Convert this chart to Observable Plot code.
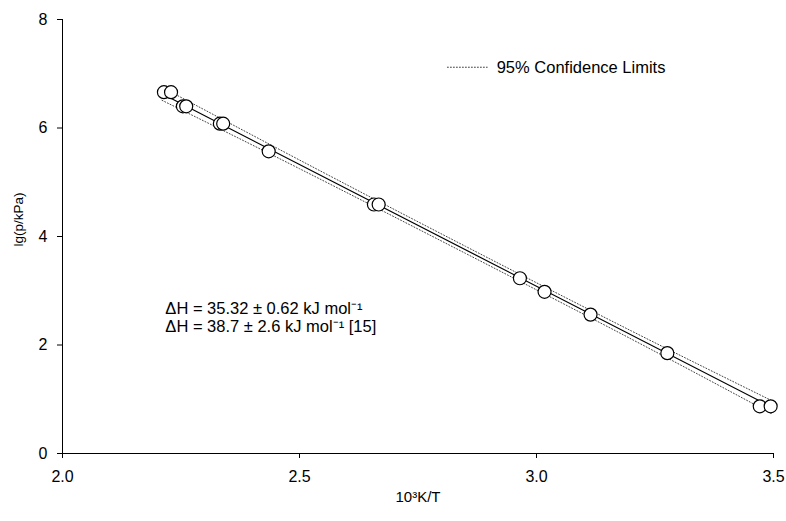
<!DOCTYPE html>
<html>
<head>
<meta charset="utf-8">
<script src="https://cdn.jsdelivr.net/npm/d3@7"></script>
<script src="https://cdn.jsdelivr.net/npm/@observablehq/plot@0.6"></script>
<style>
  html, body { margin: 0; padding: 0; background: #fff; }
  svg { font-family: "Liberation Sans", Arial, sans-serif; }
</style>
</head>
<body>
<div id="chart"></div>
<script>
// measured points: x = 10^3 K/T, y = lg(p/kPa)
const invT = [2.214, 2.229, 2.254, 2.261, 2.332, 2.339, 2.435, 2.657, 2.667, 2.965, 3.017, 3.114, 3.276, 3.471, 3.494];
const lgP  = [6.66, 6.66, 6.40, 6.40, 6.08, 6.08, 5.57, 4.59, 4.59, 3.23, 2.98, 2.56, 1.85, 0.87, 0.87];

// fitted line (end points)
const fitX = [2.21, 3.495];
const fitY = [6.63, 0.86];

// 95% confidence limits
const ciX     = [2.21, 2.5, 2.85, 3.2, 3.495];
const ciUpper = [6.75, 5.41, 3.82, 2.26, 0.98];
const ciLower = [6.51, 5.25, 3.69, 2.11, 0.74];

const xTicks = [2.0, 2.5, 3.0, 3.5];
const yTicks = [0, 2, 4, 6, 8];
const xLabel = "10³K/T";
const yLabel = "lg(p/kPa)";

const annotations = [
  {x: 2.217, y: 2.66, text: "ΔH = 35.32 ± 0.62 kJ mol⁻¹"},
  {x: 2.217, y: 2.34, text: "ΔH = 38.7 ± 2.6 kJ mol⁻¹ [15]"}
];
const legendLine = [{x: 2.812, y: 7.12}, {x: 2.896, y: 7.12}];
const legendText = [{x: 2.916, y: 7.12, text: "95% Confidence Limits"}];

const points = invT.map((x, i) => ({x, y: lgP[i]}));
const fit = fitX.map((x, i) => ({x, y: fitY[i]}));
const up = ciX.map((x, i) => ({x, y: ciUpper[i]}));
const lo = ciX.map((x, i) => ({x, y: ciLower[i]}));

const chart = Plot.plot({
  width: 786,
  height: 521,
  marginLeft: 62,
  marginRight: 13,
  marginTop: 19,
  marginBottom: 68,
  style: {fontFamily: "'Liberation Sans', Arial, sans-serif", fontSize: "15px", color: "#000", background: "#fff"},
  x: {domain: [2, 3.5]},
  y: {domain: [0, 8]},
  marks: [
    Plot.axisX({ticks: xTicks, tickFormat: d3.format(".1f"), tickSize: 5, tickPadding: 12, fontSize: 16,
      label: null}),
    Plot.axisY({ticks: yTicks, tickSize: 5, tickPadding: 10, fontSize: 16, label: null}),
    Plot.text([xLabel], {text: d => d, frameAnchor: "bottom", dy: 44, lineAnchor: "middle", fontSize: 15, fill: "#000"}),
    Plot.text([yLabel], {text: d => d, frameAnchor: "left", dx: -44, dy: 10, rotate: -90, lineAnchor: "middle", fontSize: 13.5, fill: "#000"}),
    Plot.ruleX([2], {stroke: "#000", strokeWidth: 1}),
    Plot.ruleY([0], {stroke: "#000", strokeWidth: 1}),
    Plot.line(up, {x: "x", y: "y", curve: "natural", stroke: "#444", strokeWidth: 1, strokeDasharray: "1,2"}),
    Plot.line(lo, {x: "x", y: "y", curve: "natural", stroke: "#444", strokeWidth: 1, strokeDasharray: "1,2"}),
    Plot.line(fit, {x: "x", y: "y", stroke: "#000", strokeWidth: 1.2}),
    Plot.dot(points, {x: "x", y: "y", r: 6.5, fill: "white", stroke: "#000", strokeWidth: 1.2}),
    Plot.line(legendLine, {x: "x", y: "y", stroke: "#444", strokeWidth: 1, strokeDasharray: "1,2"}),
    Plot.text(legendText, {x: "x", y: "y", text: "text", textAnchor: "start", fontSize: 16.5, fill: "#000"}),
    Plot.text(annotations, {x: "x", y: "y", text: "text", textAnchor: "start", fontSize: 16.5, fill: "#000"})
  ]
});
document.getElementById("chart").appendChild(chart);
</script>
</body>
</html>
